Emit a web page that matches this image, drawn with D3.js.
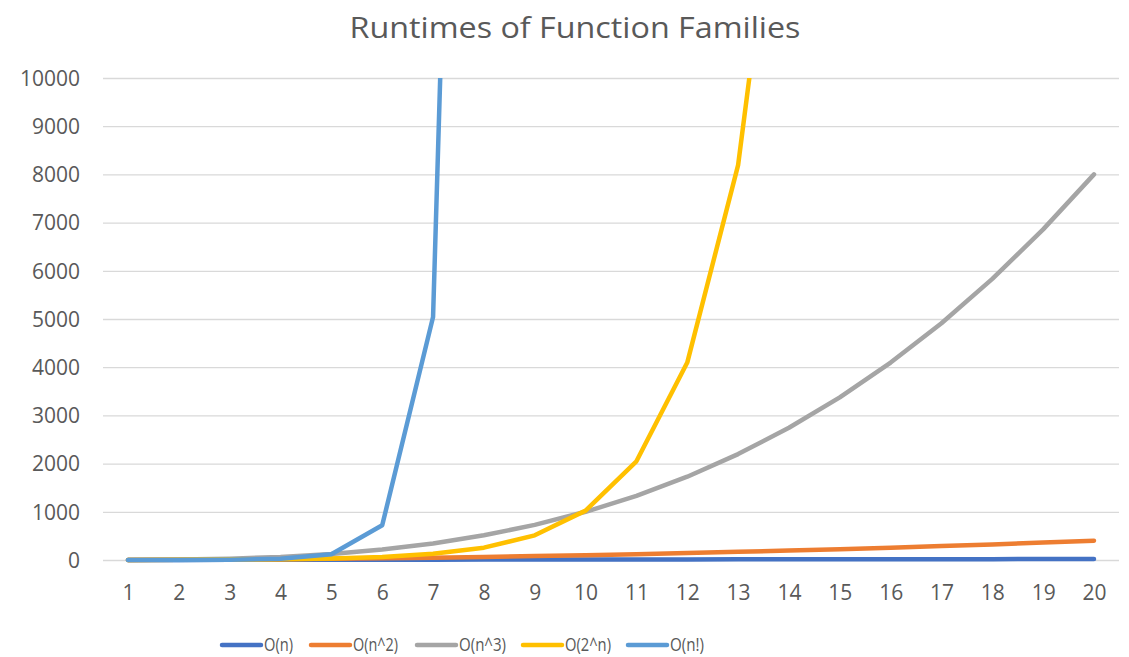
<!DOCTYPE html>
<html><head><meta charset="utf-8">
<script src="https://cdn.jsdelivr.net/npm/d3@7"></script>
<style>body{margin:0;background:#fff}svg{display:block}</style>
</head><body>
<svg id="chart" width="1129" height="657"></svg>
<script>
const categories = [1,2,3,4,5,6,7,8,9,10,11,12,13,14,15,16,17,18,19,20];
const seriesNames = ["O(n)","O(n^2)","O(n^3)","O(2^n)","O(n!)"];
const seriesColors = ["#4472C4","#ED7D31","#A5A5A5","#FFC000","#5B9BD5"];
const valuesN  = [1,2,3,4,5,6,7,8,9,10,11,12,13,14,15,16,17,18,19,20];
const valuesN2 = [1,4,9,16,25,36,49,64,81,100,121,144,169,196,225,256,289,324,361,400];
const valuesN3 = [1,8,27,64,125,216,343,512,729,1000,1331,1728,2197,2744,3375,4096,4913,5832,6859,8000];
const values2N = [2,4,8,16,32,64,128,256,512,1024,2048,4096,8192,16384,32768,65536,131072,262144,524288,1048576];
const valuesNF = [1,2,6,24,120,720,5040,40320,362880,3628800,39916800,479001600,6227020800,87178291200,1307674368000,20922789888000,355687428096000,6402373705728000,121645100408832000,2432902008176640000];
const yTicks = [0,1000,2000,3000,4000,5000,6000,7000,8000,9000,10000];
const title = "Runtimes of Function Families";

const allSeries = [valuesN, valuesN2, valuesN3, values2N, valuesNF];
const svg = d3.select("#chart");
const font = "'Open Sans', 'Liberation Sans', sans-serif";
const textColor = "#595959";

const x = d3.scalePoint().domain(categories).range([128, 1094]);
const y = d3.scaleLinear().domain([0, 10000]).range([560, 78]);

// title
svg.append("text").attr("x", 575).attr("y", 38).attr("text-anchor", "middle")
  .attr("font-family", font).attr("font-size", 30).attr("fill", textColor)
  .attr("textLength", 451).attr("lengthAdjust", "spacingAndGlyphs").text(title);

// gridlines
const yAxis = d3.axisLeft(y).tickValues(yTicks).tickSize(-1016).tickFormat(d => d);
const gy = svg.append("g").attr("transform", "translate(103,0)").call(yAxis);
gy.select(".domain").remove();
gy.selectAll(".tick line").attr("stroke", "#D9D9D9").attr("stroke-width", 1.3);
gy.selectAll(".tick text").attr("x", -23).attr("dy", "0.35em").attr("fill", textColor)
  .attr("font-family", font).attr("font-size", 21);

// x axis labels
const xAxis = d3.axisBottom(x).tickSize(0).tickFormat(d => d);
const gx = svg.append("g").attr("transform", "translate(0,560)").call(xAxis);
gx.select(".domain").remove();
gx.selectAll(".tick text").attr("y", 33).attr("dy", "0.35em").attr("fill", textColor)
  .attr("font-family", font).attr("font-size", 21);

// clip
svg.append("defs").append("clipPath").attr("id", "plot")
  .append("rect").attr("x", 90).attr("y", y(10000)).attr("width", 1040).attr("height", y(0) - y(10000) + 20);

const line = d3.line().x((d, i) => x(categories[i])).y(d => y(d));
const gl = svg.append("g").attr("clip-path", "url(#plot)");
allSeries.forEach((vals, k) => {
  gl.append("path").attr("d", line(vals)).attr("fill", "none")
    .attr("stroke", seriesColors[k]).attr("stroke-width", 4.5)
    .attr("stroke-linejoin", "round").attr("stroke-linecap", "round");
});

// legend
const legendX = [222, 311, 417, 523, 628];
const legendW = [29, 45, 47, 46, 34];
const lg = svg.append("g");
seriesNames.forEach((name, k) => {
  lg.append("line").attr("x1", legendX[k]).attr("x2", legendX[k] + 39).attr("y1", 645).attr("y2", 645)
    .attr("stroke", seriesColors[k]).attr("stroke-width", 4.5).attr("stroke-linecap", "round");
  lg.append("text").attr("x", legendX[k] + 42).attr("y", 644).attr("dy", "0.35em")
    .attr("font-family", font).attr("font-size", 19).attr("fill", textColor)
    .attr("textLength", legendW[k]).attr("lengthAdjust", "spacingAndGlyphs").text(name);
});
</script>
</body></html>
